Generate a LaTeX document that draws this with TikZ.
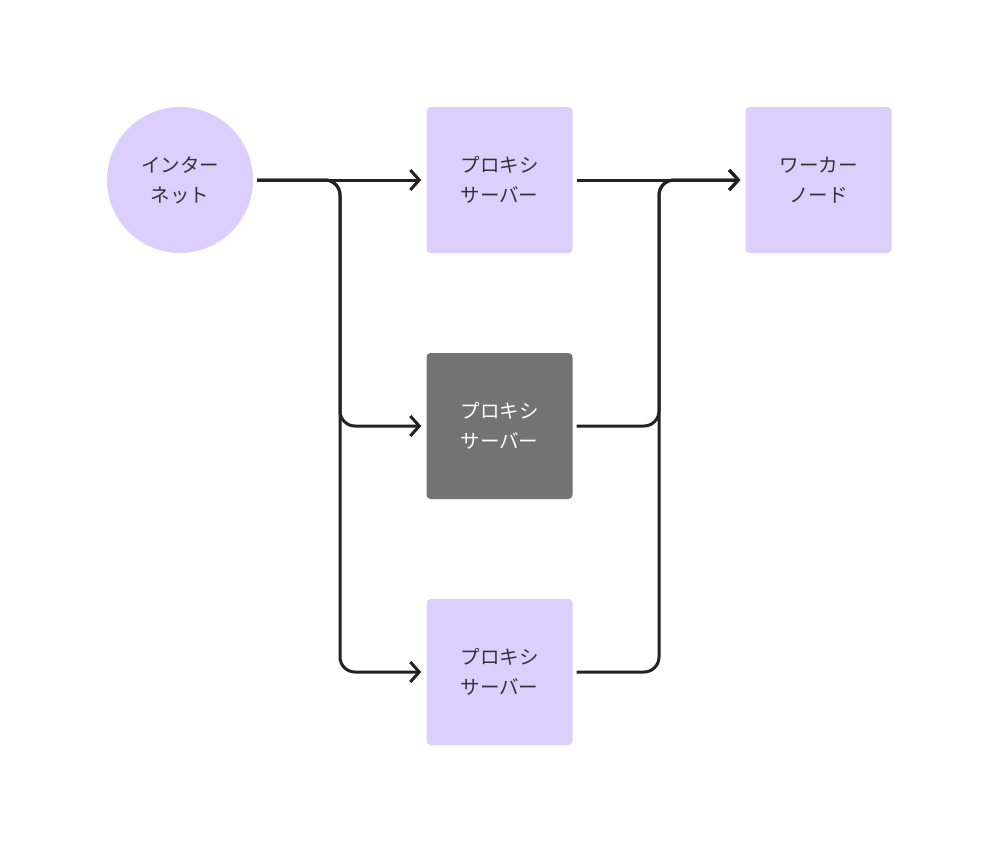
\documentclass[tikz,border=0pt]{standalone}
\usepackage{fontspec}
\setmainfont{Noto Sans CJK JP}
\usetikzlibrary{arrows.meta}
\definecolor{lav}{HTML}{DCCFFE}
\definecolor{grayb}{HTML}{737373}
\definecolor{ln}{HTML}{222222}
\definecolor{tx}{HTML}{333333}
\begin{document}
\begin{tikzpicture}[x=1pt,y=-1pt,
  box/.style={rectangle,rounded corners=4pt,minimum width=146pt,minimum height=146pt,inner sep=0pt,align=center,font=\fontsize{19.5pt}{30pt}\selectfont,text=tx,fill=lav},
  conn/.style={draw=ln,line width=3pt,rounded corners=15pt},
  arr/.style={-{Straight Barb[length=9pt,width=20pt,line width=3pt]}}]
\useasboundingbox (0,0) rectangle (999,852);
\node[circle,fill=lav,minimum size=146pt,inner sep=0pt,align=center,text=tx,font=\fontsize{19.5pt}{30pt}\selectfont] (inet) at (180,180) {インター\\ネット};
\node[box] (p1) at (499.5,180) {プロキシ\\サーバー};
\node[box,fill=grayb,text=white] (p2) at (499.5,426) {プロキシ\\サーバー};
\node[box] (p3) at (499.5,672) {プロキシ\\サーバー};
\node[box] (w) at (818.5,180) {ワーカー\\ノード};
\draw[conn,arr] ([xshift=4pt]inet.east) -- ([xshift=-5pt]p1.west);
\draw[conn,arr] ([xshift=4pt]inet.east) -- (340,180) -- (340,426) -- ([xshift=-5pt]p2.west);
\draw[conn,arr] ([xshift=4pt]inet.east) -- (340,180) -- (340,672) -- ([xshift=-5pt]p3.west);
\draw[conn,arr] ([xshift=4pt]p1.east) -- ([xshift=-5pt]w.west);
\draw[conn,arr] ([xshift=4pt]p2.east) -- (659,426) -- (659,180) -- ([xshift=-5pt]w.west);
\draw[conn,arr] ([xshift=4pt]p3.east) -- (659,672) -- (659,180) -- ([xshift=-5pt]w.west);
\end{tikzpicture}
\end{document}
